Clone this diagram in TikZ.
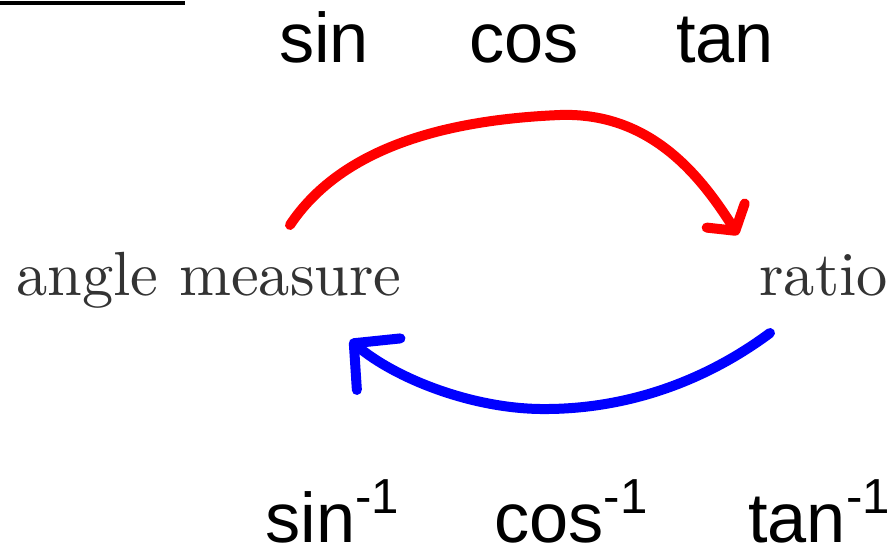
\documentclass[tikz,border=0pt]{standalone}
\usepackage{fontspec}
\newfontfamily\arialfont{Liberation Sans}
\newfontfamily\lmten{lmroman10-regular.otf}
\usetikzlibrary{arrows.meta}
\definecolor{penred}{RGB}{255,0,0}
\definecolor{penblue}{RGB}{0,0,255}
\definecolor{textgray}{RGB}{51,51,51}
\newcommand{\invexp}{\raisebox{0.4em}{\fontsize{28}{28}\selectfont -1}}

\begin{document}
\begin{tikzpicture}[
    trig/.style={inner sep=0pt, anchor=base, font=\arialfont\fontsize{40}{40}\selectfont},
    invtrig/.style={inner sep=0pt, anchor=base west, font=\arialfont\fontsize{40}{40}\selectfont},
    word/.style={inner sep=0pt, anchor=base west, text=textgray, font=\lmten\fontsize{35.5}{35.5}\selectfont},
    pen/.style={line width=0.2cm, line cap=round, line join=round},
]
\useasboundingbox (0,0) rectangle (17.86,11.02);

% underline cut off at the top
\draw[line width=2pt] (0,10.96) -- (3.7,10.96);

\node[trig] (sin) at (6.48,9.76) {sin};
\node[trig] (cos) at (10.48,9.76) {cos};
\node[trig] (tan) at (14.5,9.76) {tan};

\node[word] (angle) at (0.32,5.1) {angle measure};
\node[word] (ratio) at (15.18,5.1) {ratio};

\node[invtrig] (asin) at (5.3,0.18) {sin\invexp};
\node[invtrig] (acos) at (9.88,0.18) {cos\invexp};
\node[invtrig] (atan) at (14.96,0.18) {tan\invexp};

\coordinate (fwdstart) at (5.8,6.52);
\coordinate (fwdend)   at (14.76,6.32);
\coordinate (invstart) at (15.4,4.36);
\coordinate (invend)   at (7.0,4.22);

\draw[pen, penred, -{Straight Barb[length=0.36cm, width=0.9cm, round]}]
    (fwdstart) .. controls (6.8,8.02) and (8.8,8.62) .. (11.2,8.72)
               .. controls (13.0,8.78) and (14.0,7.52) .. (fwdend);
\draw[pen, penblue, -{Straight Barb[length=0.65cm, width=1.35cm, round]}]
    (invstart) .. controls (14.0,3.32) and (12.4,2.82) .. (10.8,2.84)
               .. controls (9.4,2.86) and (7.9,3.46) .. (invend);

\end{tikzpicture}
\end{document}
